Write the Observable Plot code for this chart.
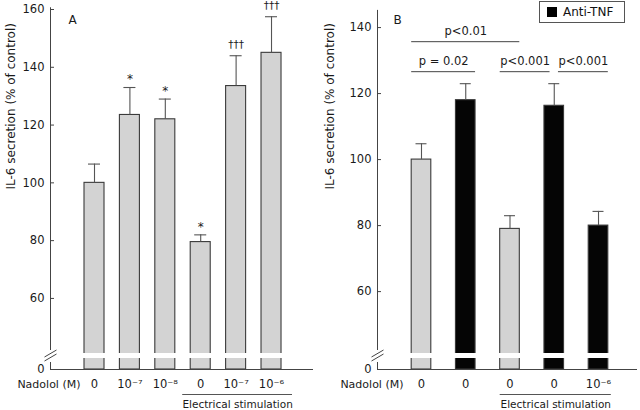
<!DOCTYPE html>
<html>
<head>
<meta charset="utf-8">
<script src="https://cdn.jsdelivr.net/npm/d3@7"></script>
<script src="https://cdn.jsdelivr.net/npm/@observablehq/plot@0.6"></script>
<style>
  body { margin: 0; background: #fff; }
  #wrap { position: relative; width: 640px; height: 410px; display: flex; font-family: "DejaVu Sans", sans-serif; }
  #wrap svg { display: block; }
  #legend { position: absolute; left: 539px; top: 1px; width: 84px; height: 20px; border: 1px solid #555; display: flex; align-items: center; font-size: 12px; color: #111; background: #fff; z-index: 2; }
  #legend .sw { width: 10px; height: 10px; background: #000; margin: 0 6px 0 7px; }
</style>
</head>
<body>
<div id="wrap"></div>
<script>
// ---------- data ----------
const panelALabels = ["0", "10⁻⁷", "10⁻⁸", "0", "10⁻⁷", "10⁻⁶"];
const panelAValues = [100, 123.5, 122, 79.5, 133.5, 145];
const panelAErrors = [6.5, 9.5, 7, 2.5, 10.5, 12.5];
const panelAMarkers = ["", "*", "*", "*", "†††", "†††"];
const panelAStimulated = [false, false, false, true, true, true];

const panelBLabels = ["0", "0", "0", "0", "10⁻⁶"];
const panelBValues = [100, 118, 79, 116.3, 80];
const panelBErrors = [4.8, 5, 4, 6.7, 4.3];
const panelBAntiTNF = [false, true, false, true, true];
const panelBStimulated = [false, false, true, true, true];
const panelBComparisons = [
  {from: 0, to: 2, label: "p<0.01", tier: 2},
  {from: 0, to: 1, label: "p = 0.02", tier: 1},
  {from: 2, to: 3, label: "p<0.001", tier: 1},
  {from: 3, to: 4, label: "p<0.001", tier: 1}
];

const yTicksA = [60, 80, 100, 120, 140, 160];
const yTicksB = [60, 80, 100, 120, 140];
const yLabel = "IL-6 secretion (% of control)";
const xLabel = "Nadolol (M)";
const groupLabel = "Electrical stimulation";
const legendLabel = "Anti-TNF";

const GRAY = "#d3d3d3";
const BLACK = "#050505";
const INK = "#3a3a3a";
const FONT = "DejaVu Sans, sans-serif";

function panel(cfg) {
  const {labels, values, errors, fills, markers = [], stimulated, comparisons = [], yTicks,
         width, height, mL, mR, mT, mB, xDomain, yDomain, half, cap, axisTop,
         groupExt, xLabelDx, yLabelDx, yLabelDy, letter, letterDx, letterDy} = cfg;
  const base = yDomain[0];
  const pxX = (width - mL - mR) / (xDomain[1] - xDomain[0]);
  const pxY = (height - mT - mB) / (yDomain[1] - yDomain[0]);
  const u = px => px / pxX;
  const v = px => px / pxY;
  const xMin = xDomain[0];
  const rows = values.map((value, i) => ({i, value, top: value + errors[i], label: labels[i], fill: fills[i], marker: markers[i] || ""}));
  const stimIdx = rows.filter(d => stimulated[d.i]).map(d => d.i);
  const g0 = d3.min(stimIdx), g1 = d3.max(stimIdx);
  const group = [{x1: g0 - half - u(groupExt[0]), x2: g1 + half + u(groupExt[1])}];
  group[0].xm = (group[0].x1 + group[0].x2) / 2;

  const maxTop = d3.max(rows, d => d.top);
  const comps = comparisons.map(c => {
    const sharedL = comparisons.some(o => o !== c && o.tier === c.tier && o.to === c.from);
    const sharedR = comparisons.some(o => o !== c && o.tier === c.tier && o.from === c.to);
    const x1 = c.from - half + (sharedL ? u(14) : 0);
    const x2 = c.to + half - (sharedR ? u(14) : 0);
    return {...c, x1, x2, xm: (x1 + x2) / 2, y: maxTop + v(12) + (c.tier - 1) * v(30)};
  });

  return Plot.plot({
    width, height, marginLeft: mL, marginRight: mR, marginTop: mT, marginBottom: mB,
    style: {fontFamily: FONT, fontSize: "11px", color: "#1a1a1a", background: "#fff"},
    x: {domain: xDomain, axis: null},
    y: {domain: yDomain},
    color: {type: "identity"},
    marks: [
      Plot.axisY({ticks: [base, ...yTicks], tickFormat: d => d === base ? "0" : String(d), tickSize: 0, tickPadding: 6, label: null, fontSize: 11.5, fontFamily: FONT}),
      Plot.rectY(rows, {x1: d => d.i - half, x2: d => d.i + half, y1: base, y2: "value", fill: "fill", stroke: INK, strokeWidth: 1.1}),
      Plot.rectY(rows, {x1: d => d.i - half - u(1.5), x2: d => d.i + half + u(1.5), y1: base + v(11), y2: base + v(16), fill: "white"}),
      Plot.ruleX(rows, {x: "i", y1: "value", y2: "top", stroke: "#555", strokeWidth: 1.1}),
      Plot.ruleY(rows, {y: "top", x1: d => d.i - cap, x2: d => d.i + cap, stroke: "#555", strokeWidth: 1.1}),
      // axes
      Plot.ruleY([base], {stroke: "#444"}),
      Plot.ruleX([xMin], {y1: base, y2: base + v(7), stroke: "#444"}),
      Plot.ruleX([xMin], {y1: base + v(19), y2: axisTop, stroke: "#444"}),
      Plot.ruleY(yTicks, {x1: xMin, x2: xMin + u(4), stroke: "#444"}),
      Plot.link([12, 16], {x1: xMin - u(6), x2: xMin + u(6), y1: d => base + v(d - 3.5), y2: d => base + v(d + 3.5), stroke: "#444"}),
      // x labels
      Plot.text(rows, {x: "i", y: base, text: "label", dy: 15, fontSize: 11.5}),
      Plot.text([xLabel], {x: xMin, y: base, dx: xLabelDx, dy: 15, textAnchor: "end", fontSize: 11}),
      Plot.ruleY(group, {x1: "x1", x2: "x2", y: base, dy: 25, stroke: "#555"}),
      Plot.text(group, {x: "xm", y: base, dy: 35, text: () => groupLabel, fontSize: 10.5}),
      // y label
      Plot.text([yLabel], {frameAnchor: "left", rotate: -90, dx: yLabelDx, dy: yLabelDy, fontSize: 12}),
      // panel letter
      Plot.text([letter], {frameAnchor: "top-left", dx: letterDx, dy: letterDy, fontSize: 12}),
      // markers
      Plot.text(rows.filter(d => d.marker === "*"), {x: "i", y: "top", text: "marker", dy: -8, fontSize: 12}),
      Plot.text(rows.filter(d => d.marker.startsWith("†")), {x: "i", y: "top", text: "marker", dy: -11, fontSize: 10.5}),
      // comparisons
      Plot.ruleY(comps, {x1: "x1", x2: "x2", y: "y", stroke: "#444"}),
      Plot.text(comps, {x: "xm", y: "y", text: "label", dy: -10, fontSize: 11.5})
    ]
  });
}

const plotA = panel({
  labels: panelALabels, values: panelAValues, errors: panelAErrors,
  fills: panelAValues.map(() => GRAY), markers: panelAMarkers, stimulated: panelAStimulated,
  yTicks: yTicksA, width: 320, height: 410, mL: 50, mR: 7, mT: 9, mB: 41,
  xDomain: [-1.243, 6.186], yDomain: [35.4, 160], half: 0.2825, cap: 0.17, axisTop: 160.6,
  groupExt: [8, 11], xLabelDx: 30, yLabelDx: -39, yLabelDy: 0, letter: "A", letterDx: 18, letterDy: 6
});

const plotB = panel({
  labels: panelBLabels, values: panelBValues, errors: panelBErrors,
  fills: panelBAntiTNF.map(a => a ? BLACK : GRAY), stimulated: panelBStimulated, comparisons: panelBComparisons,
  yTicks: yTicksB, width: 320, height: 410, mL: 57, mR: 3, mT: 0, mB: 41,
  xDomain: [-0.994, 4.881], yDomain: [36.4, 148.2], half: 0.2215, cap: 0.124, axisTop: 145.2,
  groupExt: [0, 3], xLabelDx: 26, yLabelDx: -47, yLabelDy: 4.5, letter: "B", letterDx: 16, letterDy: 15
});

const wrap = document.getElementById("wrap");
wrap.appendChild(plotA);
wrap.appendChild(plotB);
const legend = document.createElement("div");
legend.id = "legend";
legend.innerHTML = '<span class="sw"></span><span></span>';
legend.lastChild.textContent = legendLabel;
wrap.appendChild(legend);
</script>
</body>
</html>
